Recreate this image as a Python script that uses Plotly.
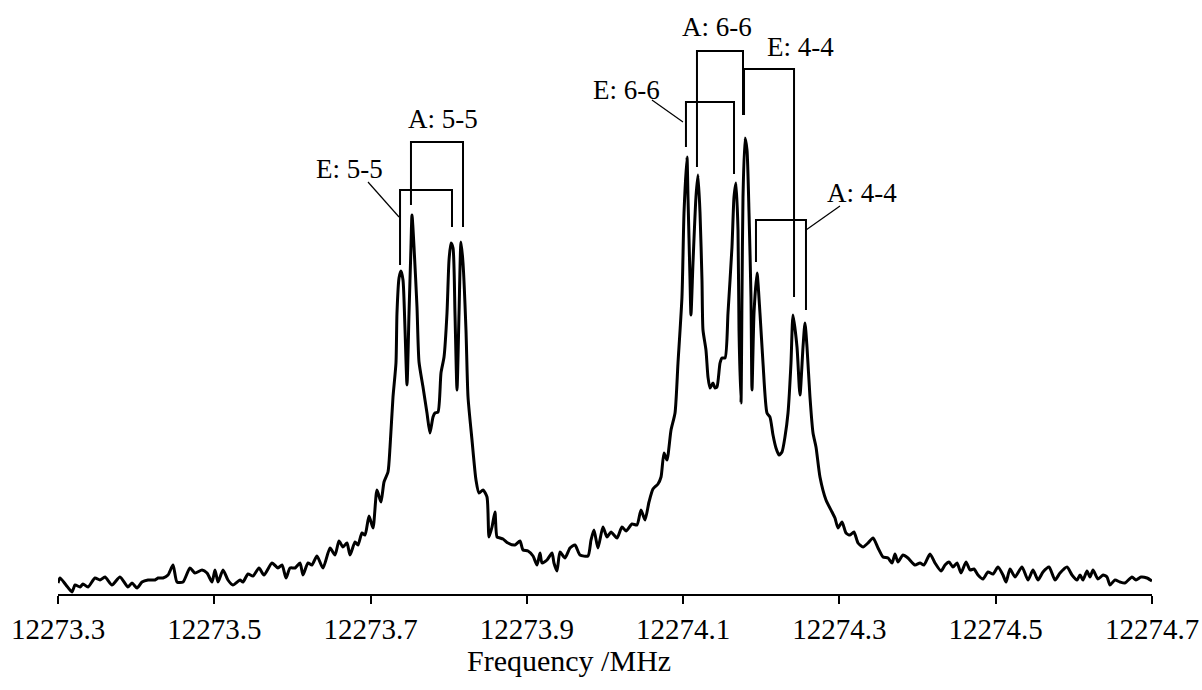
import plotly.graph_objects as go

# Spectrum: frequency (MHz) and intensity (arbitrary units)
freq = [
    12273.3000, 12273.3026, 12273.3102, 12273.3179, 12273.3218, 12273.3282, 12273.3320, 12273.3384,
    12273.3473, 12273.3537, 12273.3601, 12273.3691, 12273.3793, 12273.3896, 12273.3947, 12273.4011,
    12273.4075, 12273.4152, 12273.4241, 12273.4280, 12273.4344, 12273.4408, 12273.4472, 12273.4523,
    12273.4600, 12273.4689, 12273.4753, 12273.4843, 12273.4907, 12273.4971, 12273.5009, 12273.5048,
    12273.5112, 12273.5175, 12273.5239, 12273.5329, 12273.5367, 12273.5431, 12273.5495, 12273.5572,
    12273.5636, 12273.5739, 12273.5815, 12273.5867, 12273.5918, 12273.5969, 12273.6033, 12273.6097,
    12273.6135, 12273.6199, 12273.6250, 12273.6314, 12273.6391, 12273.6481, 12273.6545, 12273.6596,
    12273.6647, 12273.6698, 12273.6737, 12273.6801, 12273.6839, 12273.6890, 12273.6929, 12273.6980,
    12273.7031, 12273.7082, 12273.7133, 12273.7172, 12273.7223, 12273.7249, 12273.7287, 12273.7325,
    12273.7338, 12273.7364, 12273.7389, 12273.7415, 12273.7441, 12273.7466, 12273.7492, 12273.7517,
    12273.7530, 12273.7556, 12273.7594, 12273.7620, 12273.7671, 12273.7722, 12273.7760, 12273.7799,
    12273.7824, 12273.7863, 12273.7901, 12273.7940, 12273.7978, 12273.8004, 12273.8029, 12273.8055,
    12273.8080, 12273.8106, 12273.8132, 12273.8157, 12273.8183, 12273.8221, 12273.8247, 12273.8298,
    12273.8349, 12273.8388, 12273.8439, 12273.8490, 12273.8516, 12273.8554, 12273.8592, 12273.8618,
    12273.8656, 12273.8695, 12273.8759, 12273.8848, 12273.8912, 12273.8951, 12273.9015, 12273.9079,
    12273.9130, 12273.9168, 12273.9194, 12273.9258, 12273.9322, 12273.9347, 12273.9386, 12273.9424,
    12273.9488, 12273.9552, 12273.9616, 12273.9680, 12273.9782, 12273.9821, 12273.9859, 12273.9910,
    12273.9974, 12274.0026, 12274.0077, 12274.0154, 12274.0217, 12274.0269, 12274.0345, 12274.0409,
    12274.0461, 12274.0512, 12274.0563, 12274.0614, 12274.0678, 12274.0717, 12274.0755, 12274.0793,
    12274.0845, 12274.0896, 12274.0934, 12274.0985, 12274.1011, 12274.1049, 12274.1062, 12274.1088,
    12274.1100, 12274.1126, 12274.1164, 12274.1190, 12274.1216, 12274.1241, 12274.1254, 12274.1292,
    12274.1318, 12274.1344, 12274.1382, 12274.1408, 12274.1433, 12274.1472, 12274.1497, 12274.1536,
    12274.1574, 12274.1625, 12274.1651, 12274.1676, 12274.1702, 12274.1715, 12274.1740, 12274.1753,
    12274.1766, 12274.1792, 12274.1817, 12274.1843, 12274.1868, 12274.1881, 12274.1907, 12274.1945,
    12274.1983, 12274.2022, 12274.2073, 12274.2111, 12274.2150, 12274.2188, 12274.2227, 12274.2265,
    12274.2303, 12274.2342, 12274.2380, 12274.2406, 12274.2457, 12274.2495, 12274.2534, 12274.2559,
    12274.2585, 12274.2623, 12274.2662, 12274.2700, 12274.2751, 12274.2828, 12274.2905, 12274.2943,
    12274.2982, 12274.3033, 12274.3084, 12274.3135, 12274.3186, 12274.3238, 12274.3302, 12274.3366,
    12274.3430, 12274.3494, 12274.3558, 12274.3622, 12274.3673, 12274.3711, 12274.3749, 12274.3813,
    12274.3877, 12274.3967, 12274.4031, 12274.4082, 12274.4159, 12274.4223, 12274.4300, 12274.4351,
    12274.4402, 12274.4453, 12274.4505, 12274.4556, 12274.4620, 12274.4671, 12274.4722, 12274.4773,
    12274.4837, 12274.4901, 12274.4965, 12274.5029, 12274.5093, 12274.5132, 12274.5183, 12274.5247,
    12274.5336, 12274.5413, 12274.5477, 12274.5541, 12274.5605, 12274.5682, 12274.5759, 12274.5823,
    12274.5912, 12274.5976, 12274.6040, 12274.6079, 12274.6117, 12274.6168, 12274.6206, 12274.6245,
    12274.6309, 12274.6373, 12274.6424, 12274.6462, 12274.6526, 12274.6590, 12274.6654, 12274.6744,
    12274.6795, 12274.6859, 12274.6936, 12274.7000,
]

intensity = [
    11, 16, 9, 2, 9, 7, 10, 7,
    16, 14, 17, 9, 17, 7, 11, 6,
    12, 14, 14, 16, 16, 19, 29, 12,
    12, 26, 21, 24, 21, 12, 24, 12,
    24, 14, 9, 14, 12, 20, 18, 26,
    19, 31, 26, 29, 16, 26, 26, 31,
    19, 31, 29, 38, 26, 46, 39, 53,
    47, 51, 39, 52, 49, 61, 59, 78,
    66, 104, 92, 112, 122, 147, 197, 231,
    281, 316, 323, 314, 264, 209, 281, 347,
    379, 347, 287, 232, 207, 181, 161, 177,
    181, 182, 221, 237, 281, 334, 351, 346,
    281, 204, 281, 352, 331, 264, 197, 154,
    114, 101, 104, 97, 57, 67, 82, 57,
    56, 55, 51, 49, 53, 44, 43, 38,
    29, 41, 31, 34, 41, 31, 23, 42,
    36, 46, 49, 39, 38, 54, 64, 46,
    67, 57, 62, 56, 67, 63, 70, 69,
    84, 74, 92, 105, 110, 117, 141, 134,
    164, 181, 231, 297, 381, 437, 397, 314,
    279, 331, 397, 419, 381, 314, 264, 244,
    217, 206, 211, 206, 207, 231, 236, 236,
    281, 347, 397, 411, 364, 264, 191, 297,
    397, 456, 444, 381, 297, 204, 281, 321,
    281, 231, 181, 177, 159, 146, 139, 142,
    157, 181, 231, 279, 247, 199, 247, 271,
    247, 197, 161, 147, 117, 94, 82, 76,
    66, 72, 61, 59, 62, 51, 47, 51,
    56, 46, 37, 36, 31, 40, 32, 39,
    36, 29, 31, 29, 40, 31, 23, 29,
    32, 27, 31, 21, 32, 24, 25, 19,
    15, 22, 20, 27, 19, 12, 25, 17,
    27, 14, 24, 14, 22, 27, 14, 21,
    27, 19, 14, 19, 14, 23, 17, 24,
    15, 19, 17, 9, 14, 12, 11, 17,
    14, 17, 16, 13,
]

tick_values = [12273.3, 12273.5, 12273.7, 12273.9, 12274.1, 12274.3, 12274.5, 12274.7]
tick_labels = ["12273.3", "12273.5", "12273.7", "12273.9", "12274.1", "12274.3", "12274.5", "12274.7"]

# Assignment brackets: label, (left line freq, right line freq), bracket top, leg ends
assign_labels = ["E: 5-5", "A: 5-5", "E: 6-6", "A: 6-6", "E: 4-4", "A: 4-4"]
assign_left = [12273.7377, 12273.7517, 12274.1036, 12274.1177, 12274.1779, 12274.1932]
assign_right = [12273.8042, 12273.8183, 12274.1651, 12274.1766, 12274.2419, 12274.2572]
assign_top = [404, 452, 492, 543, 525, 374]
assign_left_end = [329, 389, 447, 427, 479, 332]
assign_right_end = [367, 367, 420, 479, 297, 284]
label_x = [12273.6724, 12273.7927, 12274.0269, 12274.1433, 12274.2508, 12274.3289]
label_y = [425, 475, 504, 567, 547, 401]
# leader lines (label -> bracket), None when absent
leader = [
    (12273.6967, 412, 12273.7364, 377),
    None,
    (12274.0601, 494, 12274.0998, 472),
    None,
    None,
    (12274.2572, 364, 12274.3007, 388),
]

font_family = "Liberation Serif, Times New Roman, serif"

fig = go.Figure()
fig.add_trace(go.Scatter(
    x=freq, y=intensity, mode="lines",
    line=dict(color="black", width=3, shape="spline", smoothing=0.6),
    hoverinfo="skip", showlegend=False, cliponaxis=False,
))

shapes = []
annotations = []
for i, lab in enumerate(assign_labels):
    xl, xr = assign_left[i], assign_right[i]
    path = (f"M {xl},{assign_left_end[i]} L {xl},{assign_top[i]} "
            f"L {xr},{assign_top[i]} L {xr},{assign_right_end[i]}")
    shapes.append(dict(type="path", path=path, xref="x", yref="y",
                       line=dict(color="black", width=2)))
    if leader[i] is not None:
        x0, y0, x1, y1 = leader[i]
        shapes.append(dict(type="line", x0=x0, y0=y0, x1=x1, y1=y1, xref="x", yref="y",
                           line=dict(color="black", width=1.2)))
    annotations.append(dict(x=label_x[i], y=label_y[i], xref="x", yref="y", text=lab,
                            showarrow=False, xanchor="center", yanchor="middle",
                            font=dict(family=font_family, size=27, color="black")))

annotations.append(dict(x=0.467, y=-0.112, xref="paper", yref="paper", text="Frequency /MHz",
                        showarrow=False, xanchor="center", yanchor="middle",
                        font=dict(family=font_family, size=30, color="black")))

fig.update_layout(
    width=1202, height=690,
    margin=dict(l=58, r=50, t=0, b=96),
    paper_bgcolor="white", plot_bgcolor="white",
    shapes=shapes, annotations=annotations,
    xaxis=dict(range=[12273.3, 12274.7], tickvals=tick_values, ticktext=tick_labels,
               showline=True, linecolor="black", linewidth=2, ticks="outside",
               ticklen=8, tickwidth=2, tickcolor="black", showgrid=False, zeroline=False,
               tickfont=dict(family=font_family, size=29, color="black")),
    yaxis=dict(range=[0, 594], visible=False, showgrid=False, zeroline=False),
)

fig.write_html("out.html")
